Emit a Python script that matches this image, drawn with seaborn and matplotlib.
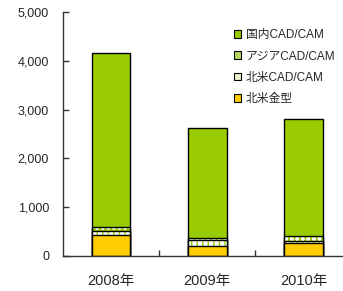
import numpy as np
import pandas as pd
import matplotlib
matplotlib.use("Agg")
import matplotlib.pyplot as plt
from matplotlib.patches import Patch
from matplotlib.ticker import FuncFormatter, FixedLocator
import seaborn as sns

sns.set_style("white")
plt.rcParams["font.family"] = ["Liberation Sans", "Noto Sans CJK JP", "DejaVu Sans"]
plt.rcParams["hatch.linewidth"] = 1.0

# ---- data ----
years = ["2008年", "2009年", "2010年"]
na_mold = [430, 210, 260]        # 北米金型
na_cad = [80, 110, 55]           # 北米CAD/CAM
asia_cad = [90, 40, 100]         # アジアCAD/CAM
domestic_cad = [3550, 2260, 2385]  # 国内CAD/CAM

series_names = ["北米金型", "北米CAD/CAM", "アジアCAD/CAM", "国内CAD/CAM"]
series_vals = [na_mold, na_cad, asia_cad, domestic_cad]
# facecolor, hatch, hatch colour, legend colour
styles = [
    ("#FFCC00", None, None, "#FFCC00"),
    ("#FFFFFF", "|||", "#99CC00", "#E6F0C8"),
    ("#99CC00", "ooo", "#FFFFFF", "#B8D860"),
    ("#99CC00", None, None, "#99CC00"),
]

df = pd.DataFrame({"year": years})
cum = np.zeros(len(years))
tops = []
for name, vals in zip(series_names, series_vals):
    cum = cum + np.array(vals)
    tops.append(cum.copy())
for name, t in zip(series_names, tops):
    df[name] = t

fig = plt.figure(figsize=(3.43, 2.91), dpi=100)
ax = fig.add_axes([63 / 343, 35 / 291, 282 / 343, 244 / 291])

# draw stacked bars from the tallest cumulative total down
for i in range(len(series_names) - 1, -1, -1):
    name = series_names[i]
    fc, hatch, hc, _ = styles[i]
    if hatch:
        sns.barplot(data=df, x="year", y=name, order=years, width=0.4,
                    color=fc, saturation=1, errorbar=None, ax=ax,
                    hatch=hatch, edgecolor=hc, linewidth=0)
        sns.barplot(data=df, x="year", y=name, order=years, width=0.4,
                    fill=False, errorbar=None, ax=ax,
                    edgecolor="black", linewidth=1.0)
    else:
        sns.barplot(data=df, x="year", y=name, order=years, width=0.4,
                    color=fc, saturation=1, errorbar=None, ax=ax,
                    edgecolor="black", linewidth=1.0)

ax.set_xlim(-0.5, 2.43)
ax.set_ylim(0, 5000)
ax.set_yticks(range(0, 5001, 1000))
ax.yaxis.set_major_formatter(FuncFormatter(lambda v, p: f"{int(v):,}"))
ax.set_xlabel("")
ax.set_ylabel("")
ax.xaxis.set_minor_locator(FixedLocator([0.5, 1.5]))

for s in ["top", "right"]:
    ax.spines[s].set_visible(False)
for s in ["left", "bottom"]:
    ax.spines[s].set_color("#333333")
    ax.spines[s].set_linewidth(1.0)

ax.tick_params(axis="y", direction="in", length=4, width=1, color="#333333",
               labelsize=9, pad=10, left=True)
ax.tick_params(axis="x", which="major", length=0, labelsize=10.5, pad=13)
ax.tick_params(axis="x", which="minor", direction="in", length=4, width=1,
               color="#333333", bottom=True)

handles = []
for i in range(len(series_names) - 1, -1, -1):
    handles.append(Patch(facecolor=styles[i][3], edgecolor="black", linewidth=0.8,
                         label=series_names[i]))
leg = ax.legend(handles=handles, loc="upper left", bbox_to_anchor=(0.59, 0.95),
                frameon=False, fontsize=8.5, handlelength=0.6, handleheight=0.6,
                handletextpad=0.4, labelspacing=0.8, borderaxespad=0)

fig.savefig("out.png", dpi=100)
